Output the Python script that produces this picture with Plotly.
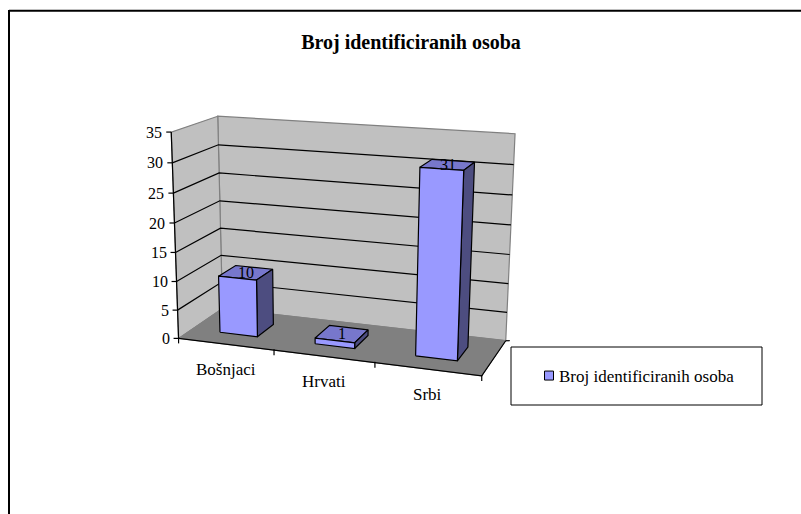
import numpy as np
import plotly.graph_objects as go

categories = ["Bošnjaci", "Hrvati", "Srbi"]
values = [10, 1, 31]
series_name = "Broj identificiranih osoba"
title_text = "Broj identificiranih osoba"
value_ticks = [0, 5, 10, 15, 20, 25, 30, 35]

W, H = 801, 514
VMAX = value_ticks[-1]
N = len(categories)
SERIF = "Liberation Serif"

# Camera calibration: model corners (category pos, value, depth) -> image pixels
model = [(0, 0, 0), (N, 0, 0), (0, VMAX, 0), (0, 0, 1), (N, 0, 1), (0, VMAX, 1), (N, VMAX, 1)]
image = [(179, 337), (481.5, 377.5), (171, 132), (222, 310), (506, 339), (218, 116), (515, 134)]
rows = []
for (u, v, d), (px, py) in zip(model, image):
    rows.append([u, v, d, 1, 0, 0, 0, 0, -px * u, -px * v, -px * d, -px])
    rows.append([0, 0, 0, 0, u, v, d, 1, -py * u, -py * v, -py * d, -py])
P = np.linalg.svd(np.array(rows, float))[2][-1].reshape(3, 4)


def proj(u, v, d):
    x, y, w = P @ np.array([u, v, d, 1.0])
    return x / w, y / w


def poly(fig, pts, fill=None, line="black", width=1.0):
    xy = [proj(*p) for p in pts]
    xs = [a for a, _ in xy]
    ys = [b for _, b in xy]
    if fill:
        xs.append(xs[0])
        ys.append(ys[0])
    fig.add_trace(go.Scatter(
        x=xs, y=ys, mode="lines", fill="toself" if fill else None, fillcolor=fill,
        line=dict(color=line, width=width), hoverinfo="skip", showlegend=False))


fig = go.Figure()

# walls and floor
poly(fig, [(0, 0, 1), (N, 0, 1), (N, VMAX, 1), (0, VMAX, 1)], "#C0C0C0", "#808080", 1.2)
poly(fig, [(0, 0, 0), (0, 0, 1), (0, VMAX, 1), (0, VMAX, 0)], "#C0C0C0", "#808080", 1.2)
poly(fig, [(0, 0, 0), (N, 0, 0), (N, 0, 1), (0, 0, 1)], "#808080", "#808080", 1.0)

# gridlines
for t in value_ticks[1:-1]:
    poly(fig, [(0, t, 0), (0, t, 1), (N, t, 1)], None, "black", 1.2)

# axes
poly(fig, [(0, 0, 0), (0, VMAX, 0)], None, "black", 1.2)
poly(fig, [(0, 0, 0), (N, 0, 0), (N, 0, 1)], None, "black", 1.2)
for t in value_ticks:
    x, y = proj(0, t, 0)
    fig.add_shape(type="line", x0=x - 5, x1=x, y0=y, y1=y, line=dict(color="black", width=1.2))
    fig.add_annotation(x=x - 7, y=y, text=str(t), showarrow=False, xanchor="right", yanchor="middle",
                       font=dict(family=SERIF, size=16, color="black"))
for i in range(N + 1):
    x, y = proj(i, 0, 0)
    fig.add_shape(type="line", x0=x, x1=x, y0=y - 1, y1=y + 5, line=dict(color="black", width=1.2))
x, y = proj(N, 0, 1)
fig.add_shape(type="line", x0=x, x1=x + 4, y0=y, y1=y, line=dict(color="black", width=1.2))

# category labels
for i, c in enumerate(categories):
    x, y = proj(i + 0.5, 0, 0)
    fig.add_annotation(x=x, y=y + 25, text=c, showarrow=False, xanchor="center", yanchor="middle",
                       font=dict(family=SERIF, size=17, color="black"))

# bars
A, B = 0.3, 0.7
for i, val in enumerate(values):
    u0, u1 = i + A, i + B
    d0, d1 = A, B
    poly(fig, [(u0, val, d0), (u1, val, d0), (u1, val, d1), (u0, val, d1)], "#7777CC", "black", 1.2)
    poly(fig, [(u1, 0, d0), (u1, 0, d1), (u1, val, d1), (u1, val, d0)], "#4D4D80", "black", 1.2)
    poly(fig, [(u0, 0, d0), (u1, 0, d0), (u1, val, d0), (u0, val, d0)], "#9999FF", "black", 1.2)
    x, y = proj(i + 0.5, val, 0.5)
    fig.add_annotation(x=x, y=y, text=str(val), showarrow=False, xanchor="center", yanchor="middle",
                       font=dict(family=SERIF, size=16, color="black"))

# legend entry
fig.add_trace(go.Scatter(
    x=[None], y=[None], mode="markers", name=series_name, showlegend=True,
    marker=dict(symbol="square", size=9, color="#9999FF", line=dict(color="black", width=1))))

# legend box and outer frame
fig.add_shape(type="rect", x0=511, x1=762, y0=347, y1=405, line=dict(color="black", width=1), fillcolor="white", layer="below")
fig.add_shape(type="line", x0=9, x1=W, y0=10.7, y1=10.7, line=dict(color="black", width=2))
fig.add_shape(type="line", x0=9, x1=9, y0=10, y1=H, line=dict(color="black", width=2))

fig.update_layout(
    width=W, height=H, margin=dict(l=0, r=0, t=0, b=0),
    plot_bgcolor="white", paper_bgcolor="white",
    title=dict(text="<b>" + title_text + "</b>", x=411 / W, xanchor="center", y=1 - 41.5 / H, yanchor="middle",
               font=dict(family=SERIF, size=20, color="black")),
    xaxis=dict(visible=False, range=[0, W], fixedrange=True),
    yaxis=dict(visible=False, range=[H, 0], fixedrange=True),
    legend=dict(x=519 / W, y=1 - 376 / H, xanchor="left", yanchor="middle", bgcolor="rgba(0,0,0,0)",
                borderwidth=0, font=dict(family=SERIF, size=17, color="black")),
)
fig.write_html("out.html", config={"displayModeBar": False},
               post_script="document.body.style.margin='0';document.body.style.overflow='hidden';"
                           "document.querySelectorAll('.legendsymbols').forEach(function(g){g.setAttribute('transform','translate(10,0)');});")
